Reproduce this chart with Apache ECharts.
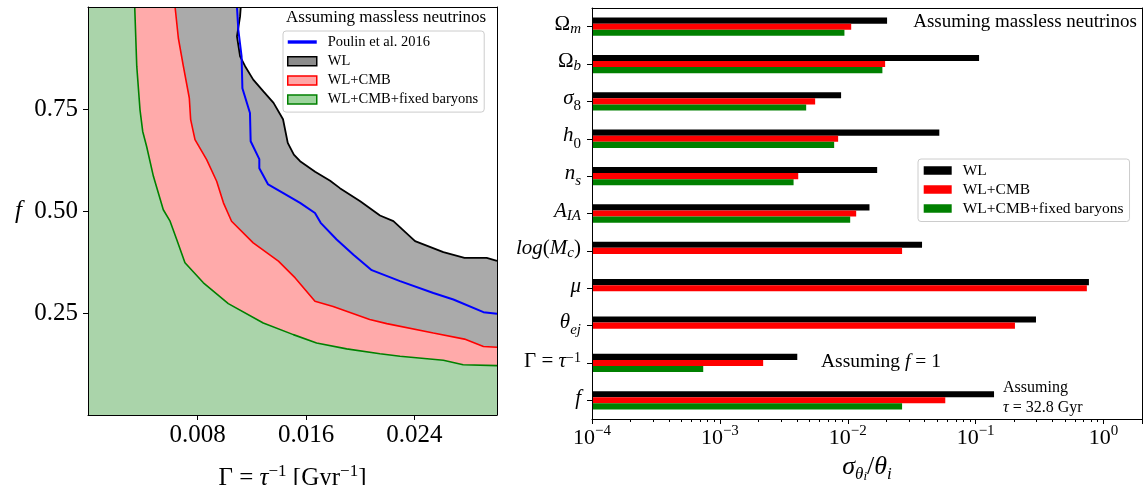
<!DOCTYPE html>
<html><head><meta charset="utf-8">
<script src="https://cdn.jsdelivr.net/npm/echarts@6/dist/echarts.min.js"></script>
<style>html,body{margin:0;padding:0;background:#fff}#c{width:1148px;height:485px}</style>
</head><body><div id="c"></div>
<script>
// ---------------- Left panel: f versus Gamma ----------------
const GAMMA_MIN = -0.0001, GAMMA_MAX = 0.0301;
const F_MIN = 0, F_MAX = 1;
const gammaTicks = [0.008, 0.016, 0.024];
const fTicks = [0.25, 0.50, 0.75];
const wlCurve = [[0.01118,1.0],[0.01113,0.977],[0.0109,0.928],[0.01113,0.879],[0.0115,0.855],[0.0121,0.822],[0.01285,0.793],[0.0136,0.765],[0.0143,0.725],[0.01465,0.667],[0.0151,0.638],[0.01556,0.622],[0.01667,0.596],[0.01778,0.574],[0.0185,0.556],[0.0200,0.524],[0.02146,0.489],[0.02245,0.475],[0.02405,0.426],[0.02614,0.399],[0.0277,0.385],[0.02934,0.385],[0.0301,0.378]];
const wlcmbCurve = [[0.00633,1.0],[0.00657,0.924],[0.00694,0.855],[0.00738,0.777],[0.00748,0.724],[0.0078,0.675],[0.00866,0.626],[0.0094,0.573],[0.0099,0.520],[0.0105,0.475],[0.0121,0.422],[0.01396,0.377],[0.0152,0.336],[0.01666,0.279],[0.0180,0.266],[0.0207,0.234],[0.02196,0.224],[0.0254,0.201],[0.0277,0.186],[0.0291,0.168],[0.0301,0.166]];
const fixedCurve = [[0.00335,1.0],[0.0035,0.855],[0.00374,0.748],[0.00394,0.695],[0.00423,0.658],[0.00473,0.585],[0.00546,0.503],[0.00596,0.475],[0.00645,0.430],[0.00706,0.373],[0.00842,0.324],[0.01026,0.273],[0.01284,0.2255],[0.01506,0.197],[0.01678,0.1765],[0.0190,0.162],[0.02146,0.150],[0.02294,0.144],[0.02614,0.134],[0.0276,0.123],[0.0301,0.121]];
const poulinCurve = [[0.0109,1.0],[0.0110,0.944],[0.01124,0.879],[0.0113,0.801],[0.01186,0.740],[0.01191,0.671],[0.01255,0.627],[0.01255,0.605],[0.0132,0.565],[0.01432,0.544],[0.01556,0.520],[0.01666,0.495],[0.01708,0.471],[0.01826,0.430],[0.0195,0.393],[0.02085,0.355],[0.02294,0.328],[0.0254,0.299],[0.02688,0.283],[0.0291,0.252],[0.0301,0.248]];

// ---------------- Right panel: relative errors ----------------
const X_MIN = 1e-4, X_MAX = 2;
const paramLabels = ['{u|Ω}{sc|m}','{u|Ω}{sc|b}','{i|σ}{sln|8}','{i|h}{sln|0}','{i|n}{sl|s}','{i|A}{sc|IA}','{i|log}{u|(}{i|M}{sc|c}{u|)}','{i|μ}','{i|θ}{sl|ej}','{u|Γ = }{i|τ}{sup|−1}','{i|f}'];
const wlErr    = [0.0203, 0.1064, 0.00887, 0.052, 0.01698, 0.01479, 0.0381, 0.769, 0.2965, 0.00403, 0.1393];
const wlcmbErr = [0.01064, 0.0196, 0.00556, 0.00841, 0.0041, 0.01164, 0.0266, 0.741, 0.203, 0.00218, 0.0579];
const fixedErr = [0.00942, 0.01866, 0.00473, 0.00783, 0.00377, 0.01045, null, null, null, 0.000741, 0.0266];
const minorTicks = [2e-4,3e-4,4e-4,5e-4,6e-4,7e-4,8e-4,9e-4,2e-3,3e-3,4e-3,5e-3,6e-3,7e-3,8e-3,9e-3,0.02,0.03,0.04,0.05,0.06,0.07,0.08,0.09,0.2,0.3,0.4,0.5,0.6,0.7,0.8,0.9,2];

const SERIF = "'Liberation Serif','DejaVu Serif',serif";
const BAR_FRAC = 0.1633;

function richSet(base, sub, lh) {
  const t = {fontFamily: SERIF, color: '#000', fontWeight: 'normal'};
  return {
    u: Object.assign({}, t, {fontSize: base, lineHeight: lh}),
    i: Object.assign({}, t, {fontSize: base, fontStyle: 'italic', lineHeight: lh}),
    si: Object.assign({}, t, {fontSize: sub, fontStyle: 'italic', verticalAlign: 'bottom'}),
    su: Object.assign({}, t, {fontSize: sub, verticalAlign: 'bottom'}),
    sup: Object.assign({}, t, {fontSize: sub, verticalAlign: 'top'}),
    ss: Object.assign({}, t, {fontSize: Math.round(sub * 0.75), fontStyle: 'italic', verticalAlign: 'bottom'})
  };
}
// parameter-name labels: main glyphs top-aligned, subscripts pushed down with padding
const T = {fontFamily: SERIF, color: '#000', fontWeight: 'normal'};
const yRich = {
  u: Object.assign({}, T, {fontSize: 21, lineHeight: 24, verticalAlign: 'top'}),
  i: Object.assign({}, T, {fontSize: 21, lineHeight: 24, verticalAlign: 'top', fontStyle: 'italic'}),
  sc: Object.assign({}, T, {fontSize: 15, lineHeight: 25.8, verticalAlign: 'top', fontStyle: 'italic', padding: [7.5, 0, 0, 0]}),
  sl: Object.assign({}, T, {fontSize: 15, lineHeight: 26.6, verticalAlign: 'top', fontStyle: 'italic', padding: [10.7, 0, 0, 0]}),
  sln: Object.assign({}, T, {fontSize: 15, lineHeight: 26.6, verticalAlign: 'top', padding: [10.7, 0, 0, 0]}),
  sup: Object.assign({}, T, {fontSize: 14, lineHeight: 13, verticalAlign: 'top'})
};

function frameAxis(grid, pos) {
  return {gridIndex: grid, position: pos, type: 'value', min: 0, max: 1, z: 10,
    axisLine: {show: true, onZero: false, lineStyle: {color: '#000', width: 1}},
    axisTick: {show: false}, axisLabel: {show: false}, splitLine: {show: false}};
}

function barSeries(name, values, color, slot) {
  return {
    type: 'custom', name: name, xAxisIndex: 2, yAxisIndex: 2, z: 3, silent: true,
    data: values.map((v, i) => v == null ? null : [v, i]).filter(d => d),
    encode: {x: 0, y: 1},
    renderItem: function (params, api) {
      const v = api.value(0), c = api.value(1);
      const p0 = api.coord([X_MIN, c]);
      const p1 = api.coord([v, c]);
      const band = api.size([1, 1], [v, c])[1];
      const h = band * BAR_FRAC;
      return {type: 'rect', shape: {x: p0[0], y: p0[1] + (slot - 1.5) * h, width: p1[0] - p0[0], height: h},
        style: {fill: color}};
    }
  };
}

function areaSeries(name, curve, color) {
  return {type: 'line', name: name, xAxisIndex: 0, yAxisIndex: 0, silent: true, z: 1,
    data: [[GAMMA_MIN, F_MAX]].concat(curve), symbol: 'none',
    lineStyle: {width: 0, opacity: 0}, areaStyle: {color: color, opacity: 1, origin: 'start'}};
}
function curveSeries(name, curve, color, width) {
  return {type: 'line', name: name, xAxisIndex: 0, yAxisIndex: 0, silent: true, z: 3,
    data: curve, symbol: 'none', showSymbol: false, lineStyle: {color: color, width: width}};
}

const chart = echarts.init(document.getElementById('c'), null, {renderer: 'canvas'});
chart.setOption({
  animation: false,
  backgroundColor: '#fff',
  title: [
    {text: 'Assuming massless neutrinos', left: 286, top: 9.5, padding: 0,
      textStyle: {fontFamily: SERIF, fontSize: 17, fontWeight: 'normal', color: '#000'}},
    {text: 'Assuming massless neutrinos', right: 11, top: 13, padding: 0,
      textStyle: {fontFamily: SERIF, fontSize: 19, fontWeight: 'normal', color: '#000'}},
    {text: '{u|Assuming }{i|f}{u| = 1}', left: 821, top: 351, padding: 0,
      textStyle: {fontWeight: 'normal', rich: richSet(19.5, 14, 22)}},
    {text: '{u|Assuming}\n{i|τ}{u| = 32.8 Gyr}', left: 1003, top: 378, padding: 0,
      textStyle: {fontWeight: 'normal', rich: richSet(16, 12, 19.7)}}
  ],
  legend: [
    {left: 283, top: 31, orient: 'vertical', itemWidth: 29, itemHeight: 9, itemGap: 3.2,
      padding: [3, 6, 4.5, 4], backgroundColor: '#fff', borderColor: '#cccccc', borderWidth: 1, borderRadius: 3,
      selectedMode: false,
      textStyle: {fontFamily: SERIF, fontSize: 14.5, color: '#000', lineHeight: 16, padding: [0, 0, 0, 6]},
      data: [
        {name: 'Poulin et al. 2016', icon: 'path://M0,0L30,0L30,3.5L0,3.5Z', itemStyle: {color: '#0000ff', borderWidth: 0}},
        {name: 'WL', icon: 'rect', itemStyle: {color: '#8c8c8c', borderColor: '#000', borderWidth: 1.5}},
        {name: 'WL+CMB', icon: 'rect', itemStyle: {color: '#ffa6a6', borderColor: '#ff0000', borderWidth: 1.5}},
        {name: 'WL+CMB+fixed baryons', icon: 'rect', itemStyle: {color: '#9dd49d', borderColor: '#008000', borderWidth: 1.5}}
      ]},
    {left: 918, top: 159, orient: 'vertical', itemWidth: 28, itemHeight: 8.5, itemGap: 3,
      padding: [3.5, 6, 5, 5.7], backgroundColor: '#fff', borderColor: '#cccccc', borderWidth: 1, borderRadius: 3,
      selectedMode: false,
      textStyle: {fontFamily: SERIF, fontSize: 15.5, color: '#000', lineHeight: 16, padding: [0, 0, 0, 6]},
      data: [
        {name: 'WL', icon: 'rect', itemStyle: {color: '#000000', borderWidth: 0}},
        {name: 'WL+CMB', icon: 'rect', itemStyle: {color: '#ff0000', borderWidth: 0}},
        {name: 'WL+CMB+fixed baryons', icon: 'rect', itemStyle: {color: '#008000', borderWidth: 0}}
      ]}
  ],
  grid: [
    {left: 88, top: 7, width: 409, height: 408, containLabel: false, outerBoundsMode: 'none'},
    {left: 592, top: 8, width: 550, height: 411, containLabel: false, outerBoundsMode: 'none'}
  ],
  xAxis: [
    {gridIndex: 0, type: 'value', min: GAMMA_MIN, max: GAMMA_MAX, position: 'bottom', z: 10,
      axisLine: {show: true, onZero: false, lineStyle: {color: '#000', width: 1}},
      axisTick: {show: true, customValues: gammaTicks, length: 5, lineStyle: {color: '#000'}},
      axisLabel: {customValues: gammaTicks, formatter: v => v.toFixed(3), margin: 8,
        fontFamily: SERIF, fontSize: 25, color: '#000'},
      splitLine: {show: false},
      name: '{u|Γ = }{i|τ}{sup|−1}{u| [Gyr}{sup|−1}{u|]}', nameLocation: 'middle', nameGap: 48,
      nameTextStyle: {rich: richSet(25, 17, 30)}},
    frameAxis(0, 'top'),
    {gridIndex: 1, type: 'log', logBase: 10, min: X_MIN, max: X_MAX, position: 'bottom', z: 10,
      axisLine: {show: true, onZero: false, lineStyle: {color: '#000', width: 1}},
      axisTick: {show: true, length: 5, lineStyle: {color: '#000'}},
      minorTick: {show: false},
      axisLabel: {margin: 5, formatter: function (v) {
          const e = Math.log10(v), r = Math.round(e);
          if (Math.abs(e - r) > 1e-6) return '';
          return '{b|10}{p|' + (r < 0 ? '−' + (-r) : r) + '}';
        },
        rich: {b: {fontFamily: SERIF, fontSize: 22, color: '#000', lineHeight: 28},
               p: {fontFamily: SERIF, fontSize: 15, color: '#000', verticalAlign: 'top'}}},
      splitLine: {show: false},
      name: '{i|σ}{si|θ}{ss|i}{u|/}{i|θ}{si|i}', nameLocation: 'middle', nameGap: 27,
      nameTextStyle: {rich: richSet(26, 17, 32)}},
    {gridIndex: 1, type: 'value', min: Math.log10(X_MIN), max: Math.log10(X_MAX), position: 'bottom', z: 10,
      axisLine: {show: false},
      axisTick: {show: true, customValues: minorTicks.map(v => Math.log10(v)), length: 3, lineStyle: {color: '#000'}},
      axisLabel: {show: false}, splitLine: {show: false}},
    frameAxis(1, 'top')
  ],
  yAxis: [
    {gridIndex: 0, type: 'value', min: F_MIN, max: F_MAX, position: 'left', z: 10,
      axisLine: {show: true, onZero: false, lineStyle: {color: '#000', width: 1}},
      axisTick: {show: true, customValues: fTicks, length: 5, lineStyle: {color: '#000'}},
      axisLabel: {customValues: fTicks, formatter: v => v.toFixed(2), margin: 10,
        fontFamily: SERIF, fontSize: 25, color: '#000'},
      splitLine: {show: false},
      name: 'f', nameLocation: 'middle', nameRotate: 0, nameGap: 66,
      nameTextStyle: {fontFamily: SERIF, fontSize: 25, fontStyle: 'italic', color: '#000'}},
    frameAxis(0, 'right'),
    {gridIndex: 1, type: 'category', data: paramLabels, inverse: true, position: 'left', z: 10,
      axisLine: {show: true, onZero: false, lineStyle: {color: '#000', width: 1}},
      axisTick: {show: true, alignWithLabel: true, length: 5, lineStyle: {color: '#000'}},
      axisLabel: {margin: 11, rich: yRich},
      splitLine: {show: false}},
    frameAxis(1, 'right')
  ],
  series: [
    areaSeries('WL', wlCurve, '#aaaaaa'),
    areaSeries('WL+CMB', wlcmbCurve, '#ffaaaa'),
    areaSeries('WL+CMB+fixed baryons', fixedCurve, '#aad4aa'),
    curveSeries('WL contour', wlCurve, '#000000', 1.8),
    curveSeries('WL+CMB contour', wlcmbCurve, '#ff0000', 1.6),
    curveSeries('fixed contour', fixedCurve, '#008000', 1.6),
    curveSeries('Poulin et al. 2016', poulinCurve, '#0000ff', 2),
    barSeries('WL', wlErr, '#000000', 0),
    barSeries('WL+CMB', wlcmbErr, '#ff0000', 1),
    barSeries('WL+CMB+fixed baryons', fixedErr, '#008000', 2)
  ]
});
</script></body></html>
